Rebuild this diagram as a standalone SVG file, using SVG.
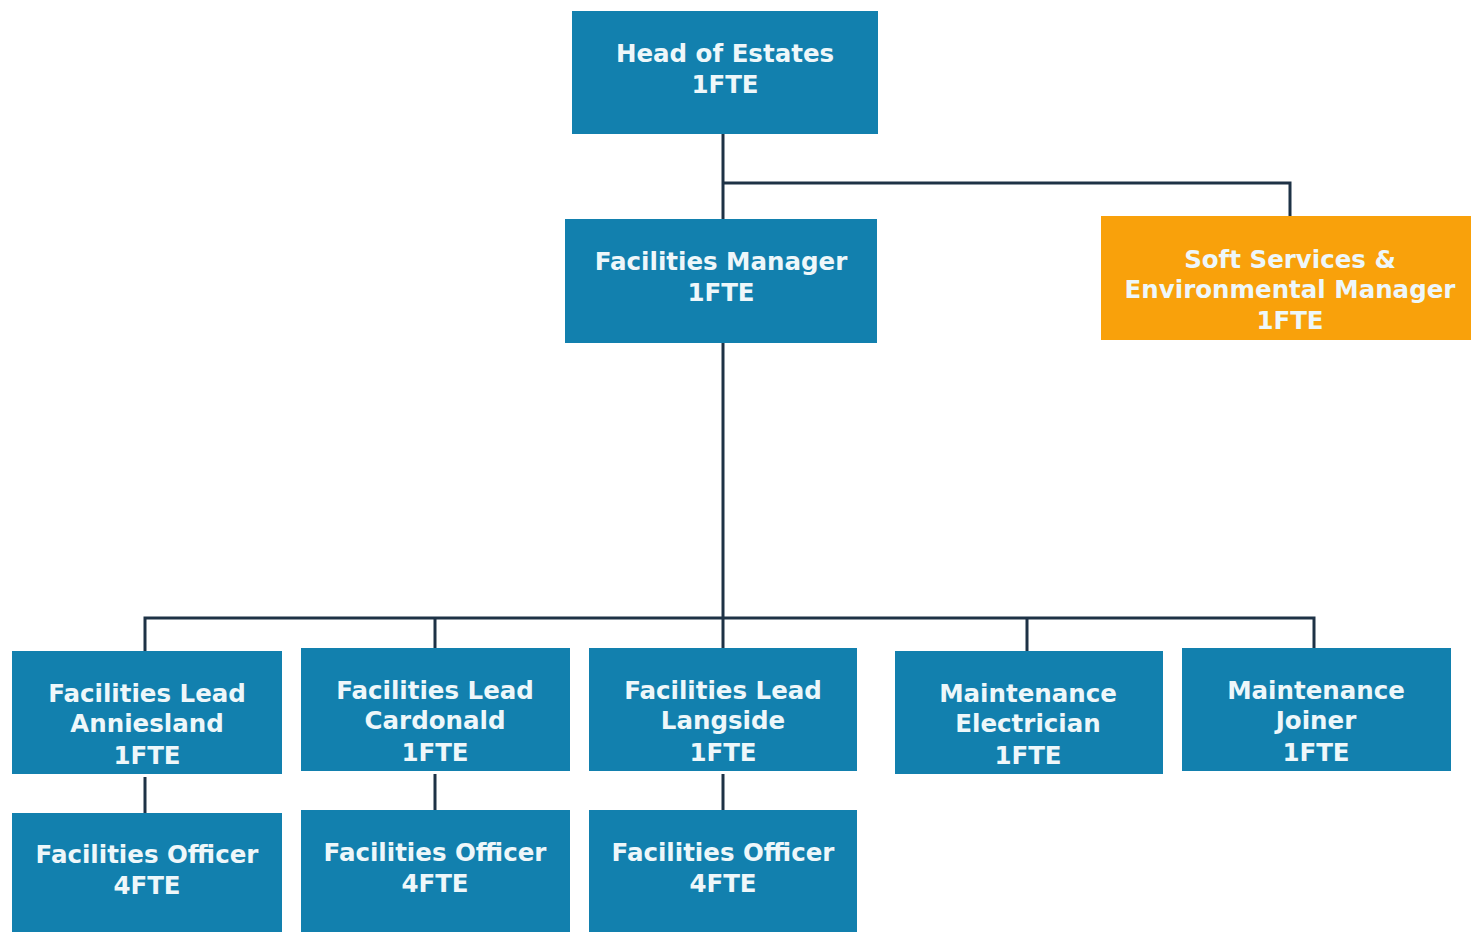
<svg xmlns="http://www.w3.org/2000/svg" width="1471" height="932" viewBox="0 0 1471 932">
<style>
.n{fill:#1280ae}
.o{fill:#f9a10b}
.t{font-family:"DejaVu Sans","Liberation Sans",sans-serif;font-weight:bold;font-size:24.5px;fill:#eef7fa;text-anchor:middle}
.c{stroke:#1e3246;stroke-width:3;fill:none}
</style>
<rect width="1471" height="932" fill="#ffffff"/>
<g id="connectors">
<path class="c" d="M723 134V219M723 183H1290V216"/>
<path class="c" d="M723 343V618M145 651V618H1314V648M435 618V648M723 618V648M1027 618V651"/>
<path class="c" d="M145 777V813M435 774V810M723 774V810"/>
</g>
<g id="head"><rect class="n" x="572" y="11" width="306" height="123"/><text class="t" x="725" y="62">Head of Estates</text><text class="t" x="725" y="93">1FTE</text></g>
<g id="fm"><rect class="n" x="565" y="219" width="312" height="124"/><text class="t" x="721" y="270">Facilities Manager</text><text class="t" x="721" y="301">1FTE</text></g>
<g id="soft"><rect class="o" x="1101" y="216" width="370" height="124"/><text class="t" x="1290" y="268">Soft Services &amp;</text><text class="t" x="1290" y="298">Environmental Manager</text><text class="t" x="1290" y="329">1FTE</text></g>
<g id="lead-anniesland"><rect class="n" x="12" y="651" width="270" height="123"/><text class="t" x="147" y="702">Facilities Lead</text><text class="t" x="147" y="732">Anniesland</text><text class="t" x="147" y="764">1FTE</text></g>
<g id="lead-cardonald"><rect class="n" x="301" y="648" width="269" height="123"/><text class="t" x="435" y="699">Facilities Lead</text><text class="t" x="435" y="729">Cardonald</text><text class="t" x="435" y="761">1FTE</text></g>
<g id="lead-langside"><rect class="n" x="589" y="648" width="268" height="123"/><text class="t" x="723" y="699">Facilities Lead</text><text class="t" x="723" y="729">Langside</text><text class="t" x="723" y="761">1FTE</text></g>
<g id="electrician"><rect class="n" x="895" y="651" width="268" height="123"/><text class="t" x="1028" y="702">Maintenance</text><text class="t" x="1028" y="732">Electrician</text><text class="t" x="1028" y="764">1FTE</text></g>
<g id="joiner"><rect class="n" x="1182" y="648" width="269" height="123"/><text class="t" x="1316" y="699">Maintenance</text><text class="t" x="1316" y="729">Joiner</text><text class="t" x="1316" y="761">1FTE</text></g>
<g id="officer-anniesland"><rect class="n" x="12" y="813" width="270" height="119"/><text class="t" x="147" y="863">Facilities Officer</text><text class="t" x="147" y="894">4FTE</text></g>
<g id="officer-cardonald"><rect class="n" x="301" y="810" width="269" height="122"/><text class="t" x="435" y="861">Facilities Officer</text><text class="t" x="435" y="892">4FTE</text></g>
<g id="officer-langside"><rect class="n" x="589" y="810" width="268" height="122"/><text class="t" x="723" y="861">Facilities Officer</text><text class="t" x="723" y="892">4FTE</text></g>
</svg>
